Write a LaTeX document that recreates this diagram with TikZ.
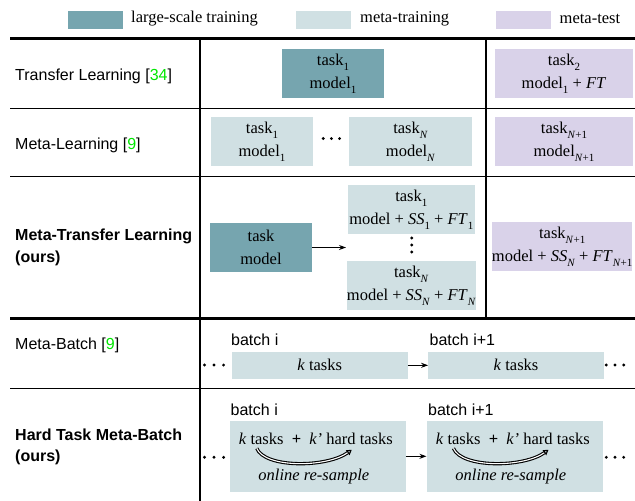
\documentclass[tikz,border=0pt]{standalone}
\usepackage{fontspec}
\setmainfont{Liberation Serif}
\setsansfont{Liberation Sans}
\usetikzlibrary{arrows.meta,calc}
\definecolor{cdark}{HTML}{76A5AF}
\definecolor{clight}{HTML}{D0E0E3}
\definecolor{cpurp}{HTML}{D9D2E9}
\definecolor{ccite}{RGB}{0,230,0}
\newcommand{\sbs}[1]{\raisebox{-0.3em}{\fontsize{11}{11}\selectfont #1}}
\newcommand{\cit}[1]{[\textcolor{ccite}{#1}]}
\begin{document}
\begin{tikzpicture}[x=1pt,y=-1pt,
  boxt/.style={inner sep=0pt, align=center, font=\fontsize{16.5}{23}\selectfont},
  dk/.style={boxt, fill=cdark},
  lt/.style={boxt, fill=clight},
  pu/.style={boxt, fill=cpurp},
  legbox/.style={inner sep=0pt, minimum width=55pt, minimum height=18pt},
  legt/.style={anchor=west, inner sep=0pt, font=\fontsize{16.5}{19}\selectfont},
  lbl/.style={anchor=west, inner sep=0pt, align=left, font=\sffamily\fontsize{16}{21.6}\selectfont},
  lblb/.style={lbl, font=\sffamily\bfseries\fontsize{16}{21.6}\selectfont},
  bt/.style={anchor=west, inner sep=0pt, font=\sffamily\fontsize{16}{19}\selectfont},
  rulethin/.style={line width=1.3pt},
  rulethick/.style={line width=2.5pt},
  arr/.style={line width=1pt, -{Stealth[length=7pt,width=5pt]}},
  resample/.style={double=white, double distance=1.1pt, line width=1.1pt, -{Triangle[open,length=5pt,width=6pt]}},
  dot/.style={fill=black}
]
\useasboundingbox (0,0) rectangle (635,501);

% legend
\node[legbox, fill=cdark] (lg1) at (95.5,20) {};
\node[legt] (lgt1) at (131,19) {large-scale training};
\node[legbox, fill=clight] (lg2) at (323.5,20) {};
\node[legt] (lgt2) at (360,19) {meta-training};
\node[legbox, fill=cpurp] (lg3) at (523.5,20) {};
\node[legt] (lgt3) at (559.5,19) {meta-test};

% rules
\draw[rulethick] (10,38.3) -- (635,38.3);
\draw[rulethin] (10,108.3) -- (635,108.3);
\draw[rulethin] (10,176.7) -- (635,176.7);
\draw[rulethick] (10,318.3) -- (635,318.3);
\draw[rulethin] (10,388.8) -- (635,388.8);
\draw[rulethin] (200,38.3) -- (200,501);
\draw[rulethin] (486,38.3) -- (486,318.3);

% row labels
\node[lbl] (tl) at (15,76) {Transfer Learning \cit{34}};
\node[lbl] (ml) at (15,145) {Meta-Learning \cit{9}};
\node[lblb] (mtl) at (15,247.5) {Meta-Transfer Learning\\(ours)};
\node[lbl] (mb) at (15,345) {Meta-Batch \cit{9}};
\node[lblb] (ht) at (15,446.7) {Hard Task Meta-Batch\\(ours)};

% row 1
\node[dk, minimum width=102pt, minimum height=48.5pt] (tla) at (333,73.5) {task\sbs{1}\\model\sbs{1}};
\node[pu, minimum width=138pt, minimum height=48.5pt] (tlb) at (564,73.5) {task\sbs{2}\\model\sbs{1} + \textit{FT}};

% row 2
\node[lt, minimum width=102pt, minimum height=48.5pt] (mla) at (262,141.5) {task\sbs{1}\\model\sbs{1}};
\node[lt, minimum width=123pt, minimum height=48.5pt] (mlb) at (410.5,141.5) {task\sbs{\textit{N}}\\model\sbs{\textit{N}}};
\node[pu, minimum width=138pt, minimum height=48.5pt] (mlc) at (564,141.5) {task\sbs{\textit{N}+1}\\model\sbs{\textit{N}+1}};
\foreach \x in {323.2,331.4,339.6} \fill[dot] (\x,138.5) circle (1.6pt);

% row 3
\node[dk, minimum width=102pt, minimum height=48.5pt] (mta) at (261,247.5) {task\\model};
\node[lt, minimum width=127.3pt, minimum height=49pt] (mtb) at (411.3,209.5) {task\sbs{1}\\model + \textit{SS}\sbs{1} + \textit{FT}\sbs{1}};
\node[lt, minimum width=127.3pt, minimum height=49pt] (mtc) at (411.3,285.5) {task\sbs{\textit{N}}\\model + \textit{SS}\sbs{\textit{N}} + \textit{FT}\sbs{\textit{N}}};
\node[pu, minimum width=139pt, minimum height=48.7pt] (mtd) at (562.2,246.7) {task\sbs{\textit{N}+1}\\model + \textit{SS}\sbs{\textit{N}} + \textit{FT}\sbs{\textit{N}+1}};
\coordinate (mtarr) at (346,247.5);
\draw[arr] (mta.east) -- (mtarr);
\foreach \y in {238,245,252} \fill[dot] (411.7,\y) circle (1.6pt);

% row 4
\node[bt] (mbi) at (231,339.5) {batch i};
\node[bt] (mbj) at (429.5,339.5) {batch i+1};
\node[lt, minimum width=176pt, minimum height=27.3pt] (mb1) at (319.7,365.3) {\textit{k} tasks};
\node[lt, minimum width=175.4pt, minimum height=27.3pt] (mb2) at (516,365.3) {\textit{k} tasks};
\draw[arr] (mb1) -- (mb2);
\foreach \x in {204.5,214,223.6,606.3,615,623.7} \fill[dot] (\x,365) circle (1.6pt);

% row 5
\node[bt] (hbi) at (230.5,409.3) {batch i};
\node[bt] (hbj) at (428,409.3) {batch i+1};
\node[lt, minimum width=175.7pt, minimum height=70.7pt] (hb1) at (317.8,456.3) {};
\node[lt, minimum width=176.3pt, minimum height=70.7pt] (hb2) at (514.8,456.3) {};
\draw[arr] (hb1) -- (hb2);
\foreach \b in {hb1,hb2} {
  \node[boxt] (\b a) at ($(\b.center)+(-2,-17)$) {\textit{k} tasks \ {\bfseries +} \ \textit{k’} hard tasks};
  \node[boxt] (\b b) at ($(\b.center)+(-4,20)$) {\textit{online re-sample}};
  \draw[resample] ($(\b.west)+(27,-8)$) .. controls +(8,20) and +(-25,18) .. ($(\b.west)+(122,-6.5)$);
}
\foreach \x in {204.5,214,223.6,606.3,615,623.7} \fill[dot] (\x,457.3) circle (1.6pt);
\end{tikzpicture}
\end{document}
